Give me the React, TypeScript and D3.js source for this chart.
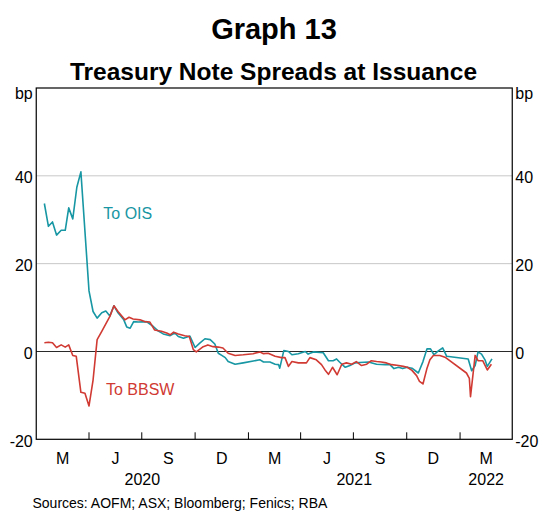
import React from "react";
import * as d3 from "d3";

// Spread to OIS (bp), by issuance date
const oisSeries: [string, number][] = [
  ["2020-01-15", 33.7], ["2020-01-22", 28.5], ["2020-01-29", 29.5], ["2020-02-05", 26.5],
  ["2020-02-13", 27.6], ["2020-02-20", 27.6], ["2020-02-26", 32.7], ["2020-03-04", 30.2],
  ["2020-03-11", 37.4], ["2020-03-18", 40.9], ["2020-04-01", 13.8], ["2020-04-08", 9.1],
  ["2020-04-15", 7.6], ["2020-04-23", 8.8], ["2020-04-30", 9.2], ["2020-05-07", 8.1],
  ["2020-05-14", 10.4], ["2020-05-21", 8.8], ["2020-05-31", 7.2], ["2020-06-05", 5.6],
  ["2020-06-11", 5.3], ["2020-06-17", 6.8], ["2020-06-25", 6.7], ["2020-07-09", 6.8],
  ["2020-07-20", 5.8], ["2020-07-29", 4.7], ["2020-08-07", 4.0], ["2020-08-19", 3.6],
  ["2020-08-27", 4.2], ["2020-09-02", 3.4], ["2020-09-11", 3.0], ["2020-09-22", 3.5],
  ["2020-10-01", 0.9], ["2020-10-09", 1.9], ["2020-10-18", 2.9], ["2020-10-27", 2.7],
  ["2020-11-04", 1.7], ["2020-11-10", -0.4], ["2020-11-16", -0.9], ["2020-11-22", -1.4],
  ["2020-11-27", -2.3], ["2020-12-09", -2.9], ["2020-12-23", -2.6], ["2021-01-21", -1.9],
  ["2021-01-27", -2.4], ["2021-02-07", -2.4], ["2021-02-16", -2.9], ["2021-02-22", -3.0],
  ["2021-02-24", -3.8], ["2021-03-03", 0.2], ["2021-03-11", 0.0], ["2021-03-17", -0.75],
  ["2021-03-28", -0.5], ["2021-04-09", 0.0], ["2021-04-14", -0.6], ["2021-04-23", -0.1],
  ["2021-05-10", -0.3], ["2021-05-19", -2.1], ["2021-05-27", -2.1], ["2021-06-02", -1.7],
  ["2021-06-07", -2.4], ["2021-06-17", -3.6], ["2021-06-25", -3.2], ["2021-07-04", -2.6],
  ["2021-07-12", -2.5], ["2021-07-27", -2.4], ["2021-08-10", -2.9], ["2021-08-25", -3.0],
  ["2021-09-02", -3.0], ["2021-09-09", -3.9], ["2021-09-17", -3.6], ["2021-09-24", -3.9],
  ["2021-10-02", -3.6], ["2021-10-10", -3.8], ["2021-10-21", -4.9], ["2021-10-29", -2.3],
  ["2021-11-05", 0.6], ["2021-11-11", 0.6], ["2021-11-17", -0.75], ["2021-11-25", 0.2],
  ["2021-12-02", 0.8], ["2021-12-09", -1.1], ["2022-01-15", -1.7], ["2022-01-21", -4.4],
  ["2022-01-27", -3.2], ["2022-02-01", -0.1], ["2022-02-07", -0.6], ["2022-02-13", -1.9],
  ["2022-02-17", -3.4], ["2022-02-25", -1.7],
];

// Spread to BBSW (bp), by issuance date
const bbswSeries: [string, number][] = [
  ["2020-01-15", 2.0], ["2020-01-22", 2.1], ["2020-01-29", 2.0], ["2020-02-05", 0.9],
  ["2020-02-13", 1.5], ["2020-02-20", 1.0], ["2020-02-26", 1.5], ["2020-03-04", -0.9],
  ["2020-03-10", -1.1], ["2020-03-18", -9.3], ["2020-03-25", -9.5], ["2020-04-01", -12.4],
  ["2020-04-08", -6.5], ["2020-04-15", 2.7], ["2020-04-23", 4.6], ["2020-04-30", 6.3],
  ["2020-05-07", 8.0], ["2020-05-14", 10.4], ["2020-05-21", 9.1], ["2020-06-02", 7.2],
  ["2020-06-09", 7.8], ["2020-06-16", 7.4], ["2020-06-28", 7.2], ["2020-07-06", 6.8],
  ["2020-07-15", 6.7], ["2020-07-23", 4.9], ["2020-08-04", 4.6], ["2020-08-13", 4.2],
  ["2020-08-19", 3.8], ["2020-08-25", 4.4], ["2020-09-02", 4.0], ["2020-09-13", 3.6],
  ["2020-09-21", 3.4], ["2020-09-28", 0.4], ["2020-10-03", -0.1], ["2020-10-15", 1.1],
  ["2020-10-23", 1.5], ["2020-11-01", 1.1], ["2020-11-10", 1.0], ["2020-11-18", 0.8],
  ["2020-11-27", -0.4], ["2020-12-09", -0.9], ["2020-12-23", -0.75], ["2021-01-09", -0.5],
  ["2021-01-21", -0.1], ["2021-01-27", -0.5], ["2021-02-04", -0.4], ["2021-02-16", -1.1],
  ["2021-02-27", -1.4], ["2021-03-05", -1.4], ["2021-03-11", -3.4], ["2021-03-17", -2.3],
  ["2021-03-28", -2.6], ["2021-04-11", -2.6], ["2021-04-17", -1.4], ["2021-04-28", -1.9],
  ["2021-05-07", -3.0], ["2021-05-13", -4.2], ["2021-05-19", -5.2], ["2021-05-26", -3.6],
  ["2021-06-03", -5.3], ["2021-06-11", -2.9], ["2021-06-19", -2.6], ["2021-06-28", -2.9],
  ["2021-07-06", -2.3], ["2021-07-15", -3.2], ["2021-07-24", -2.9], ["2021-08-01", -2.1],
  ["2021-08-10", -2.3], ["2021-08-18", -2.4], ["2021-08-27", -2.6], ["2021-09-05", -3.0],
  ["2021-09-17", -3.2], ["2021-09-25", -3.4], ["2021-10-02", -3.6], ["2021-10-10", -4.3],
  ["2021-10-18", -5.5], ["2021-10-23", -6.8], ["2021-10-29", -7.4], ["2021-11-05", -3.8],
  ["2021-11-10", -1.9], ["2021-11-16", -0.9], ["2021-11-27", -0.9], ["2021-12-06", -1.3],
  ["2022-01-12", -4.9], ["2022-01-17", -6.1], ["2022-01-19", -10.3], ["2022-01-27", -0.9],
  ["2022-02-01", -2.1], ["2022-02-09", -2.1], ["2022-02-17", -4.2], ["2022-02-24", -2.9],
];

const yTicks = [-20, 0, 20, 40];
const gridTicks = [20, 40];
const quarterLabels = ["M", "J", "S", "D", "M", "J", "S", "D", "M"];
const yearLabels = ["2020", "2021", "2022"];
const title = "Graph 13";
const subtitle = "Treasury Note Spreads at Issuance";
const unitLabel = "bp";
const sourceText = "Sources: AOFM; ASX; Bloomberg; Fenics; RBA";
const oisLabel = "To OIS";
const bbswLabel = "To BBSW";

const W = 541;
const H = 515;
const M = { left: 36.25, right: 512.25, top: 88, bottom: 439.3 };
const FONT = "'Liberation Sans', Arial, Helvetica, sans-serif";
const TEAL = "#1796a3";
const RED = "#d03a33";

export default function App() {
  const parse = d3.utcParse("%Y-%m-%d");
  const start = new Date(Date.UTC(2020, 0, 1));
  const end = new Date(Date.UTC(2022, 3, 1));
  const x = d3.scaleUtc().domain([start, end]).range([M.left, M.right]);
  const y = d3.scaleLinear().domain([-20, 60]).range([M.bottom, M.top]);

  const line = d3
    .line<[string, number]>()
    .x((d) => x(parse(d[0]) as Date))
    .y((d) => y(d[1]));

  const quarters = d3.utcMonth.every(3)!.range(start, end); // Jan 2020 ... Jan 2022
  const tickDates = quarters.slice(1);
  const quarterMids = quarters.map((q, i) => {
    const next = i + 1 < quarters.length ? quarters[i + 1] : end;
    return (x(q) + x(next)) / 2;
  });
  const yearMids = yearLabels.map((yr) => {
    const a = new Date(Date.UTC(+yr, 0, 1));
    const b = new Date(Math.min(Date.UTC(+yr + 1, 0, 1), end.getTime()));
    return (x(a) + x(b)) / 2;
  });

  return (
    <svg
      width={W}
      height={H}
      style={{ position: "absolute", left: 0, top: 0, background: "#fff" }}
      fontFamily={FONT}
    >
      <rect x={0} y={0} width={W} height={H} fill="#fff" />
      <text x={274} y={38.5} textAnchor="middle" fontSize={29} fontWeight="bold" fill="#000">
        {title}
      </text>
      <text x={273.5} y={80} textAnchor="middle" fontSize={24.5} fontWeight="bold" fill="#000">
        {subtitle}
      </text>

      {gridTicks.map((t) => (
        <line key={t} x1={M.left} x2={M.right} y1={y(t)} y2={y(t)} stroke="#c8c8c8" strokeWidth={1} />
      ))}
      <line x1={M.left} x2={M.right} y1={y(0)} y2={y(0)} stroke="#2a2a2a" strokeWidth={1.1} />

      {tickDates.map((d, i) => (
        <line key={i} x1={x(d)} x2={x(d)} y1={M.bottom} y2={M.bottom - 7} stroke="#000" strokeWidth={1} />
      ))}

      <path d={line(oisSeries) || ""} fill="none" stroke={TEAL} strokeWidth={1.6} strokeLinejoin="round" />
      <path d={line(bbswSeries) || ""} fill="none" stroke={RED} strokeWidth={1.6} strokeLinejoin="round" />

      <rect
        x={M.left}
        y={M.top}
        width={M.right - M.left}
        height={M.bottom - M.top}
        fill="none"
        stroke="#000"
        strokeWidth={1.2}
      />

      {yTicks.map((t) => (
        <g key={t} fontSize={16} fill="#000">
          <text x={M.left - 3.5} y={y(t) + 7.5} textAnchor="end">{t}</text>
          <text x={M.right + 3} y={y(t) + 7.5} textAnchor="start">{t}</text>
        </g>
      ))}
      <text x={M.left - 3.5} y={99} textAnchor="end" fontSize={16}>{unitLabel}</text>
      <text x={M.right + 3} y={99} textAnchor="start" fontSize={16}>{unitLabel}</text>

      {quarterLabels.map((q, i) => (
        <text key={i} x={quarterMids[i]} y={463.5} textAnchor="middle" fontSize={16}>{q}</text>
      ))}
      {yearLabels.map((yr, i) => (
        <text key={yr} x={yearMids[i]} y={484.5} textAnchor="middle" fontSize={16}>{yr}</text>
      ))}

      <text x={103.3} y={219.3} fontSize={16} fill={TEAL}>{oisLabel}</text>
      <text x={106} y={395} fontSize={16} fill={RED}>{bbswLabel}</text>

      <text x={32.5} y={507.5} fontSize={14} fill="#000">{sourceText}</text>
    </svg>
  );
}
